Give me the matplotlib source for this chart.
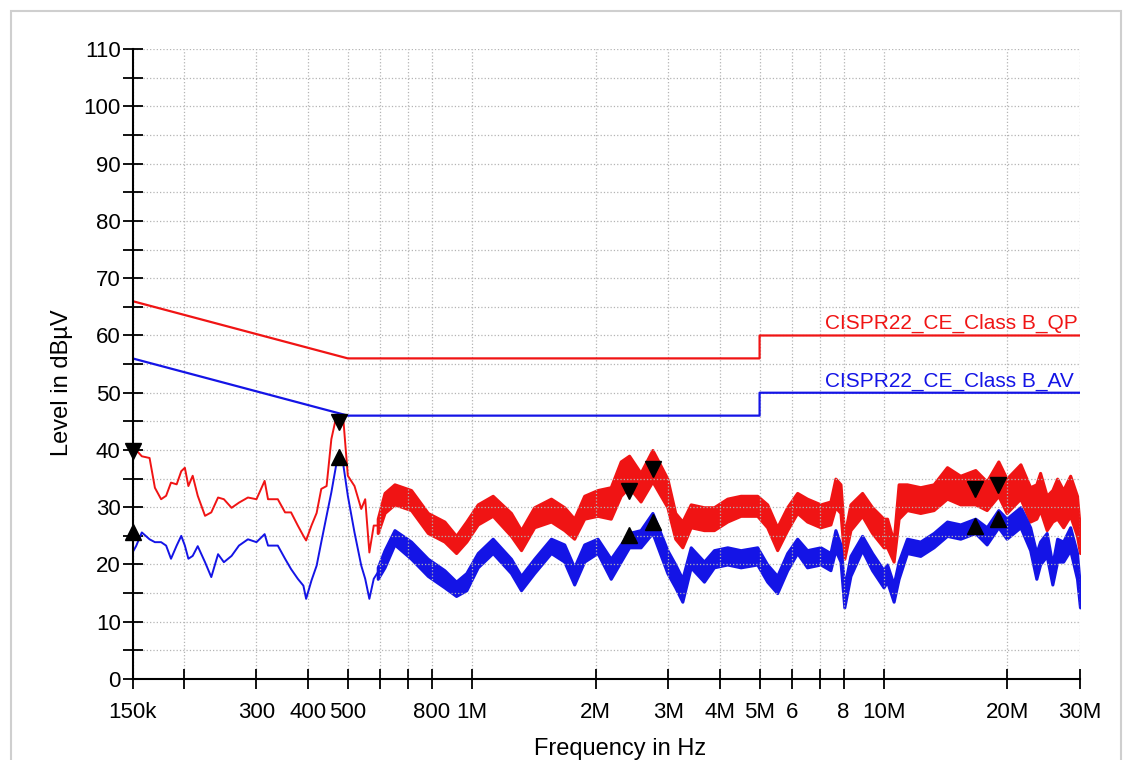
import matplotlib
matplotlib.use("Agg")
import matplotlib.pyplot as plt
from matplotlib.patches import Rectangle
from matplotlib.ticker import FixedLocator, FixedFormatter, MultipleLocator

# CISPR22 class B limits (MHz, dBuV)
lim_f = [0.15, 0.5, 5.0, 5.0, 30.0]
lim_qp = [66, 56, 56, 60, 60]
lim_av = [56, 46, 46, 50, 50]

# low end of the sweep, drawn as a thin line
f_low = [0.150, 0.153, 0.158, 0.165, 0.170, 0.176, 0.181, 0.186, 0.192, 0.197,
         0.201, 0.205, 0.210, 0.216, 0.225, 0.233, 0.242, 0.250, 0.261, 0.272,
         0.286, 0.300, 0.314, 0.320, 0.338, 0.352, 0.364, 0.378, 0.390, 0.396,
         0.408, 0.420, 0.431, 0.444, 0.456, 0.468, 0.477, 0.488, 0.500, 0.519,
         0.539, 0.551, 0.564, 0.578, 0.591]
qp_low = [40.2, 40.0, 38.9, 38.6, 33.4, 31.4, 32.0, 34.3, 34.0, 36.3,
          36.9, 33.7, 35.5, 32.0, 28.5, 29.1, 31.7, 31.4, 29.9, 30.8,
          31.7, 31.4, 34.6, 31.4, 31.4, 29.1, 29.1, 26.8, 25.0, 24.2,
          26.8, 29.0, 33.2, 33.7, 41.9, 45.6, 46.0, 45.0, 35.5, 33.7,
          29.7, 31.4, 22.1, 26.8, 26.8]
av_low = [22.1, 23.2, 25.6, 24.4, 23.9, 23.9, 23.3, 21.0, 23.3, 25.0,
          23.3, 21.0, 21.5, 23.2, 20.4, 17.8, 21.8, 20.4, 21.5, 23.3,
          24.4, 23.9, 25.3, 23.3, 23.3, 21.0, 19.2, 17.5, 16.3, 14.0,
          17.2, 19.8, 23.9, 28.5, 32.6, 37.2, 38.8, 37.2, 32.0, 25.6,
          19.8, 17.5, 14.0, 17.5, 18.6]

# above ~0.6 MHz the trace is a dense noise band -> lower / upper envelope
f_hf = [0.591, 0.614, 0.649, 0.712, 0.782, 0.858, 0.916, 0.970, 1.034, 1.124,
        1.245, 1.317, 1.418, 1.557, 1.677, 1.773, 1.875, 2.02, 2.175, 2.30,
        2.41, 2.57, 2.746, 2.985, 3.12, 3.246, 3.402, 3.663, 3.873, 4.174,
        4.497, 4.934, 5.217, 5.517, 5.835, 6.17, 6.52, 7.03, 7.43, 7.64,
        7.86, 8.03, 8.31, 8.87, 9.38, 10.0, 10.2, 10.58, 10.88, 11.4,
        12.28, 13.23, 14.26, 15.36, 16.7, 17.8, 19.0, 19.9, 21.5, 22.7,
        23.5, 24.0, 24.9, 25.7, 26.4, 27.3, 28.4, 29.5, 30.0]
qp_lo = [25.5, 29, 30.5, 29.5, 25.5, 24, 22, 24, 27, 28.5,
         25, 22.5, 26.5, 27.5, 26, 24.5, 28, 28.5, 28, 32,
         33.5, 31, 34.5, 30, 24.5, 23, 26.5, 26, 26, 27.5,
         28.5, 28.5, 26.5, 22.5, 26, 29, 27.5, 26.5, 27, 30,
         29, 21, 26, 28.5, 25.5, 23, 23, 20.5, 28, 29.5,
         29, 29.5, 31.5, 30.5, 30.5, 29.5, 32, 29, 31.5, 27.5,
         28, 29.5, 26, 27.5, 28, 26.5, 28.5, 25, 22]
qp_hi = [28, 32.5, 34, 33, 29, 27.5, 25, 27.5, 30.5, 32,
         29, 26, 30, 31.5, 30, 28, 32, 33, 33.5, 38,
         39, 36, 40, 35, 29, 27.5, 30.5, 30, 30, 31.5,
         32, 32, 30.5, 26.5, 30, 32.5, 31.5, 30.5, 31, 35,
         34, 25, 30.5, 32.5, 30, 28, 28, 24, 34, 34,
         33.5, 34, 37, 35.5, 36.5, 34.5, 38, 35, 37.5, 33.5,
         34, 36, 32, 33, 35, 33, 35.5, 32, 26]
av_lo = [17.5, 19.5, 23.5, 21, 18, 16, 14.5, 15.5, 19.5, 22,
         18.5, 15.5, 18.5, 22, 20.5, 16.5, 20.5, 22, 17.5, 20.5,
         23, 23, 25.5, 18.5, 16, 13.5, 19.5, 17, 19.5, 20,
         19.5, 20, 17, 15, 19, 22, 19.5, 20, 19, 22.5,
         20.5, 12.5, 18, 22.5, 19, 16, 17, 13.5, 17.5, 22,
         21.5, 23, 25, 24.5, 25.5, 23.5, 26.5, 24.5, 26.5, 22.5,
         17.5, 20, 21.5, 16.5, 20.5, 20.5, 22.5, 17.5, 12.5]
av_hi = [19.5, 22.5, 26, 24, 21, 19, 17, 18.5, 22, 24.5,
         21, 18, 21, 24.5, 23.5, 19.5, 23.5, 24.5, 21, 23.5,
         25.5, 26, 29, 22.5, 20, 17.5, 23, 20.5, 22.5, 23,
         22.5, 23, 20, 18, 22, 24.5, 22.5, 23, 22, 26,
         23.5, 16, 21.5, 25, 22, 19, 20, 16.5, 20.5, 24.5,
         24, 25.5, 27.5, 27, 28, 26.5, 29.5, 28, 30, 26.5,
         22, 24, 25.5, 20, 24.5, 24, 26.5, 22, 16]

# final measurement markers
mk_f = [0.15, 0.477, 2.41, 2.75, 16.7, 19.0]
mk_qp = [39.8, 44.9, 32.9, 36.6, 33.2, 33.8]
mk_av = [25.7, 38.7, 25.1, 27.5, 26.8, 27.9]

x_ticks = [0.15, 0.2, 0.3, 0.4, 0.5, 0.6, 0.7, 0.8, 1, 2, 3, 4, 5, 6, 7, 8, 10, 20, 30]
x_labels = ['150k', '', '300', '400', '500', '', '', '800', '1M', '2M', '3M',
            '4M', '5M', '6', '', '8', '10M', '20M', '30M']

RED = '#f01414'
BLUE = '#1414e6'

plt.rcParams['font.family'] = ['Liberation Sans', 'DejaVu Sans']

fig = plt.figure(figsize=(11.25, 7.6), dpi=100)
ax = fig.add_axes([0.1178, 0.1066, 0.8422, 0.8286])

# limit lines
ax.plot(lim_f, lim_qp, color=RED, lw=1.6)
ax.plot(lim_f, lim_av, color=BLUE, lw=1.6)
ax.text(7.2, 61.1, 'CISPR22_CE_Class B_QP', color=RED, fontsize=15, va='baseline')
ax.text(7.2, 51.1, 'CISPR22_CE_Class B_AV', color=BLUE, fontsize=15, va='baseline')

# measured traces
ax.plot(f_low, qp_low, color=RED, lw=1.4)
ax.plot(f_low, av_low, color=BLUE, lw=1.4)
ax.fill_between(f_hf, qp_lo, qp_hi, color=RED, lw=2.2)
ax.fill_between(f_hf, av_lo, av_hi, color=BLUE, lw=2.2)

ax.plot(mk_f, mk_qp, 'v', color='black', ms=11.5, clip_on=False, zorder=5)
ax.plot(mk_f, mk_av, '^', color='black', ms=11.5, clip_on=False, zorder=5)

ax.set_xscale('log')
ax.set_xlim(0.15, 30)
ax.set_ylim(0, 110)
ax.xaxis.set_major_locator(FixedLocator(x_ticks))
ax.xaxis.set_major_formatter(FixedFormatter(x_labels))
ax.xaxis.set_minor_locator(FixedLocator([]))
ax.yaxis.set_major_locator(MultipleLocator(10))
ax.yaxis.set_minor_locator(MultipleLocator(5))

ax.grid(True, which='both', ls=':', color='#b4b4b4', lw=0.9)
for s in ['top', 'right']:
    ax.spines[s].set_visible(False)
for s in ['left', 'bottom']:
    ax.spines[s].set_linewidth(1.5)

ax.tick_params(axis='both', which='both', direction='inout', length=15, width=1.3,
               labelsize=16)
ax.tick_params(axis='x', pad=9)
ax.tick_params(axis='y', pad=1)

ax.set_xlabel('Frequency in Hz', fontsize=17)
ax.set_ylabel('Level in dB\u00b5V', fontsize=17)
ax.xaxis.set_label_coords(0.5145, -0.093)
ax.yaxis.set_label_coords(-0.063, 0.47)

# light frame around the page
fig.patches.append(Rectangle((11 / 1125, -0.05), 1110 / 1125, 1.05 - 11 / 760,
                             transform=fig.transFigure, fill=False,
                             ec='#cfcfcf', lw=1.5))

fig.savefig('out.png', dpi=100)
